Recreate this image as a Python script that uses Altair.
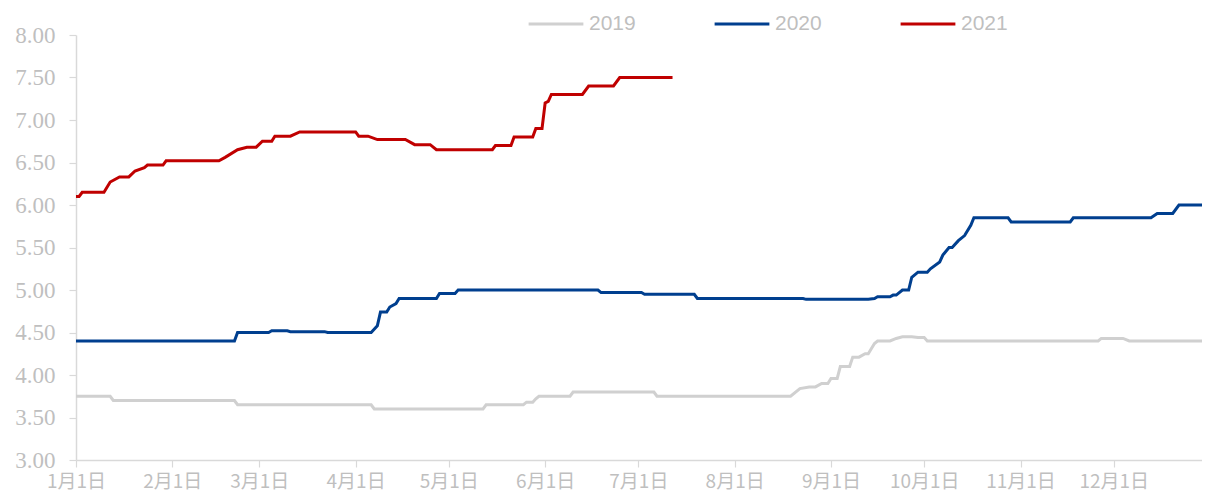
import altair as alt
import pandas as pd

# 2019 series (month-day, price)
dates_2019 = ["01-01", "01-12", "01-13", "02-21", "02-22", "04-06", "04-07", "05-12", "05-13",
              "05-25", "05-26", "05-28", "05-29", "05-30", "06-09", "06-10", "07-06", "07-07",
              "08-19", "08-22", "08-25", "08-27", "08-29", "08-31", "09-01", "09-03", "09-04",
              "09-07", "09-08", "09-10", "09-12", "09-13", "09-15", "09-16", "09-20", "09-22",
              "09-24", "09-27", "09-29", "10-01", "10-02", "11-26", "11-27", "12-04", "12-06",
              "12-31"]
values_2019 = [3.75, 3.75, 3.70, 3.70, 3.65, 3.65, 3.60, 3.60, 3.65,
               3.65, 3.68, 3.68, 3.72, 3.75, 3.75, 3.80, 3.80, 3.75,
               3.75, 3.84, 3.86, 3.86, 3.90, 3.90, 3.96, 3.96, 4.10,
               4.10, 4.21, 4.21, 4.25, 4.25, 4.37, 4.40, 4.40, 4.43,
               4.45, 4.45, 4.44, 4.44, 4.40, 4.40, 4.43, 4.43, 4.40,
               4.40]

# 2020 series
dates_2020 = ["01-01", "02-21", "02-22", "03-04", "03-05", "03-10", "03-11", "03-22", "03-23",
              "04-06", "04-08", "04-09", "04-11", "04-12", "04-14", "04-15", "04-27", "04-28",
              "05-03", "05-04", "06-18", "06-19", "07-02", "07-03", "07-19", "07-20", "08-23",
              "08-24", "09-13", "09-15", "09-16", "09-20", "09-21", "09-22", "09-24", "09-26",
              "09-27", "09-29", "10-02", "10-03", "10-06", "10-07", "10-09", "10-10", "10-12",
              "10-14", "10-16", "10-17", "10-28", "10-29", "11-17", "11-18", "12-13", "12-15",
              "12-20", "12-22", "12-31"]
values_2020 = [4.40, 4.40, 4.50, 4.50, 4.52, 4.52, 4.51, 4.51, 4.50,
               4.50, 4.58, 4.74, 4.74, 4.80, 4.84, 4.90, 4.90, 4.96,
               4.96, 5.00, 5.00, 4.97, 4.97, 4.95, 4.95, 4.90, 4.90,
               4.89, 4.89, 4.90, 4.92, 4.92, 4.94, 4.94, 5.00, 5.00,
               5.15, 5.21, 5.21, 5.25, 5.33, 5.41, 5.50, 5.50, 5.58,
               5.64, 5.76, 5.85, 5.85, 5.80, 5.80, 5.85, 5.85, 5.90,
               5.90, 6.00, 6.00]

# 2021 series
dates_2021 = ["01-01", "01-02", "01-03", "01-10", "01-12", "01-15", "01-18", "01-20", "01-23",
              "01-24", "01-29", "01-30", "02-16", "02-18", "02-22", "02-25", "02-28", "03-02",
              "03-05", "03-06", "03-11", "03-14", "04-01", "04-02", "04-05", "04-08", "04-17",
              "04-20", "04-25", "04-27", "05-15", "05-16", "05-21", "05-22", "05-28", "05-29",
              "05-31", "06-01", "06-02", "06-03", "06-13", "06-15", "06-23", "06-25", "07-12"]
values_2021 = [6.10, 6.10, 6.15, 6.15, 6.27, 6.33, 6.33, 6.40, 6.44,
               6.47, 6.47, 6.52, 6.52, 6.56, 6.65, 6.68, 6.68, 6.75,
               6.75, 6.81, 6.81, 6.86, 6.86, 6.81, 6.81, 6.77, 6.77,
               6.71, 6.71, 6.65, 6.65, 6.70, 6.70, 6.80, 6.80, 6.90,
               6.90, 7.20, 7.22, 7.30, 7.30, 7.40, 7.40, 7.50, 7.50]

series_names = ["2019", "2020", "2021"]
series_colors = ["#d0d0d0", "#003f8f", "#c00000"]
y_ticks = [3, 3.5, 4, 4.5, 5, 5.5, 6, 6.5, 7, 7.5, 8]

rows = []
for name, ds, vs in [("2019", dates_2019, values_2019),
                     ("2020", dates_2020, values_2020),
                     ("2021", dates_2021, values_2021)]:
    for i, (d, v) in enumerate(zip(ds, vs)):
        rows.append({"date": "2019-" + d + "T00:00:00Z", "value": v, "year": name, "order": i})
df = pd.DataFrame(rows)

gray_txt = "#bfbfbf"
axis_gray = "#d9d9d9"

month_ticks = [alt.DateTime(year=2019, month=m, date=1, utc=True) for m in range(1, 13)]

chart = alt.Chart(df).mark_line(strokeWidth=3, interpolate="linear", clip=True).encode(
    x=alt.X("date:T",
            scale=alt.Scale(type="utc",
                            domain=[alt.DateTime(year=2019, month=1, date=1, utc=True),
                                    alt.DateTime(year=2019, month=12, date=29, hours=10, utc=True)]),
            axis=alt.Axis(values=month_ticks,
                          labelExpr="(utcmonth(datum.value)+1) + '月1日'",
                          title=None, grid=False, domainColor=axis_gray, domainWidth=1.5,
                          tickColor=axis_gray, tickSize=7, tickWidth=1.2,
                          labelColor=gray_txt, labelFont="Noto Sans CJK SC", labelFontSize=19,
                          labelPadding=5, labelFlush=False, labelOverlap=False)),
    y=alt.Y("value:Q",
            scale=alt.Scale(domain=[3, 8], nice=False, zero=False),
            axis=alt.Axis(values=y_ticks, format=".2f",
                          title=None, grid=False, domainColor=axis_gray, domainWidth=1.5,
                          tickColor=axis_gray, tickSize=7, tickWidth=1.2,
                          labelColor=gray_txt,
                          labelFont="Times New Roman, Liberation Serif, serif",
                          labelFontSize=23, labelPadding=14)),
    color=alt.Color("year:N",
                    scale=alt.Scale(domain=series_names, range=series_colors),
                    legend=alt.Legend(title=None, orient="none", direction="horizontal",
                                      legendX=451, legendY=-40,
                                      symbolType="stroke", symbolStrokeWidth=3,
                                      symbolSize=3000, columnPadding=72,
                                      labelColor=gray_txt, labelFont="Liberation Sans",
                                      labelFontSize=21, labelOffset=4)),
    order="order:Q",
).properties(
    width=1126, height=425,
    autosize=alt.AutoSizeParams(type="none"),
    padding={"left": 68, "top": 27, "right": 0, "bottom": 33},
).configure_view(stroke=None)

chart.save("out.html", embed_options={"renderer": "svg", "actions": False})
